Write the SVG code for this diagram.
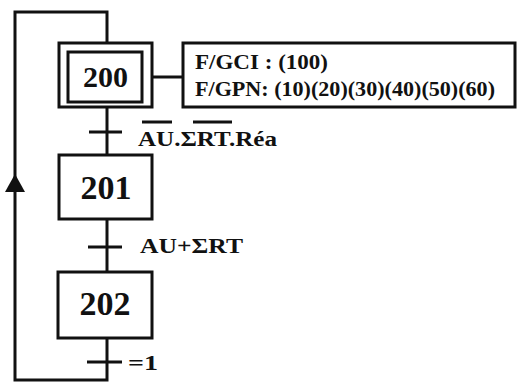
<svg xmlns="http://www.w3.org/2000/svg" width="519" height="385" viewBox="0 0 519 385">
<defs>
<style>
.ln{stroke:#111;stroke-width:3;fill:none}
.box{stroke:#111;stroke-width:3;fill:#fff}
.t{font-family:"Liberation Serif","Times New Roman",serif;font-weight:bold;fill:#111}
.step{font-size:34px;text-anchor:middle}
.lbl{font-size:20px}
</style>
</defs>
<rect width="519" height="385" fill="#fff"/>
<g id="connectors">
<polyline class="ln" points="107,43 107,12 15,12 15,380 107,380 107,338"/>
<line class="ln" x1="107" y1="107" x2="107" y2="155"/>
<line class="ln" x1="107" y1="219" x2="107" y2="272"/>
<line class="ln" x1="152" y1="77" x2="183" y2="77"/>
<polygon points="15,174 5,192 25,192" fill="#111"/>
<line class="ln" x1="89" y1="132" x2="122" y2="132"/>
<line class="ln" x1="88" y1="247" x2="122" y2="247"/>
<line class="ln" x1="87" y1="362" x2="122" y2="362"/>
</g>
<g id="t1">
<line class="ln" x1="142" y1="122" x2="172" y2="122"/>
<line class="ln" x1="193" y1="122" x2="232" y2="122"/>
<text class="t lbl" x="138" y="146" textLength="139" lengthAdjust="spacingAndGlyphs">AU.ΣRT.Réa</text>
</g>
<g id="t2">
<text class="t lbl" x="140" y="253" textLength="103" lengthAdjust="spacingAndGlyphs">AU+ΣRT</text>
</g>
<g id="t3">
<text class="t lbl" x="128" y="370" textLength="30" lengthAdjust="spacingAndGlyphs">=1</text>
</g>
<g id="step200">
<rect class="box" x="59" y="43" width="93" height="64"/>
<rect class="box" x="68" y="52" width="74" height="50"/>
<text class="t" x="105.5" y="87" font-size="30" text-anchor="middle">200</text>
</g>
<g id="action200">
<rect class="box" x="183" y="43" width="332" height="64"/>
<text class="t lbl" x="195" y="69" textLength="133" lengthAdjust="spacingAndGlyphs">F/GCI : (100)</text>
<text class="t lbl" x="195" y="96" textLength="300" lengthAdjust="spacingAndGlyphs">F/GPN: (10)(20)(30)(40)(50)(60)</text>
</g>
<g id="step201">
<rect class="box" x="59" y="155" width="93" height="64"/>
<text class="t step" x="106" y="199">201</text>
</g>
<g id="step202">
<rect class="box" x="58" y="272" width="94" height="66"/>
<text class="t step" x="105" y="315">202</text>
</g>
</svg>
